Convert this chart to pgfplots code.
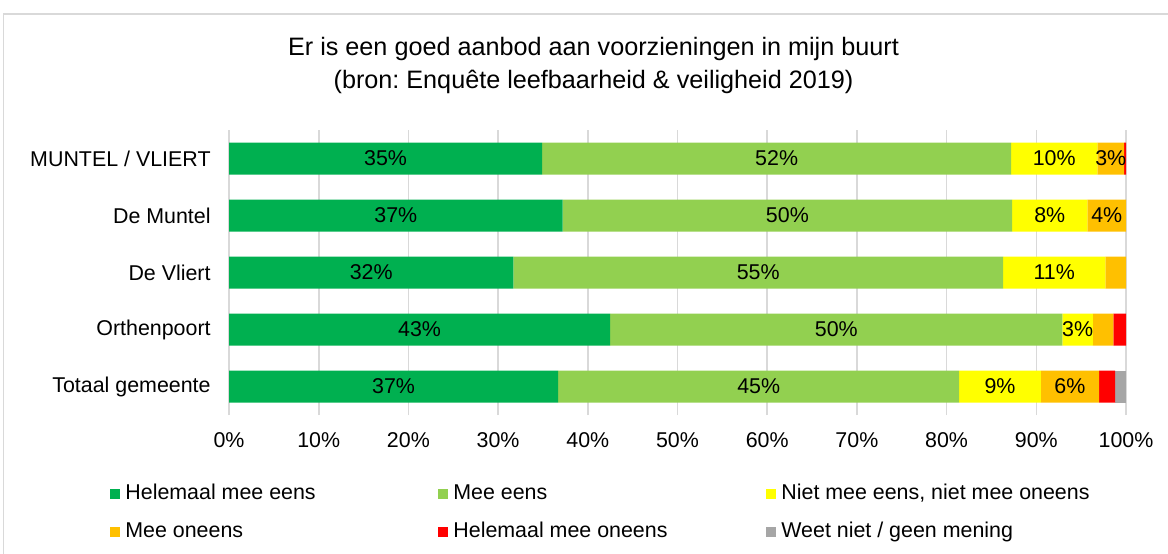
\documentclass[border=0pt]{standalone}
\usepackage{fontspec}
\setmainfont{Liberation Sans}
\usepackage{pgfplots}
\pgfplotsset{compat=1.18}
\frenchspacing
\definecolor{cA}{HTML}{00B050}
\definecolor{cB}{HTML}{92D050}
\definecolor{cC}{HTML}{FFFF00}
\definecolor{cD}{HTML}{FFC000}
\definecolor{cE}{HTML}{FF0000}
\definecolor{cF}{HTML}{A6A6A6}
\definecolor{gridc}{HTML}{D9D9D9}
\newcommand{\fs}{\fontsize{10.7bp}{12.8bp}\selectfont}
\begin{document}
\begin{tikzpicture}
\path[use as bounding box] (0,0) rectangle (584bp,277bp);
\draw[gridc, line width=0.8bp] (1.75bp,0) -- (1.75bp,270bp) -- (584bp,270bp);
\node[font=\fontsize{12.6bp}{15.1bp}\selectfont, align=center] at (296.75bp,244.25bp) {Er is een goed aanbod aan voorzieningen in mijn buurt\\[1.4bp](bron: Enquête leefbaarheid \& veiligheid 2019)};
\begin{axis}[
  at={(114.5bp,69.5bp)}, anchor=south west,
  scale only axis, width=448.5bp, height=142.5bp,
  xbar stacked, bar width=16bp,
  xmin=0, xmax=100, ymin=-0.5, ymax=4.5,
  xtick={0,10,...,100},
  xticklabels={0\%,10\%,20\%,30\%,40\%,50\%,60\%,70\%,80\%,90\%,100\%},
  ytick={0,1,2,3,4},
  yticklabels={Totaal gemeente,Orthenpoort,De Vliert,De Muntel,MUNTEL / VLIERT},
  xmajorgrids, grid style={gridc, line width=0.8bp},
  axis line style={draw=none}, tick style={draw=none},
  font=\fs,
  xticklabel style={inner sep=0pt, anchor=north, yshift=-8.5bp},
  yticklabel style={inner sep=0pt, anchor=east, xshift=-9bp},
  point meta=explicit symbolic,
  nodes near coords, nodes near coords align=center,
  every node near coord/.append style={font=\fs, black, anchor=center},
  legend columns=3,
  legend style={at={(-0.13266,-0.21053)}, anchor=north west, draw=none, fill=none,
    inner sep=0pt, row sep=0pt, font=\fs,
    nodes={inner xsep=0pt, inner ysep=4.25bp, text height=8bp, text depth=2.5bp},
    /tikz/every odd column/.append style={column sep=2.5bp}},
  legend cell align=left,
  legend image code/.code={\fill[#1] (0bp,-2.5bp) rectangle (5bp,2.5bp);},
]
\addplot[fill=cA, draw=none] coordinates {(34.9,4)[35\%] (37.2,3)[37\%] (31.7,2)[32\%] (42.5,1)[43\%] (36.7,0)[37\%]};
\addplot[fill=cB, draw=none] coordinates {(52.3,4)[52\%] (50.1,3)[50\%] (54.6,2)[55\%] (50.4,1)[50\%] (44.7,0)[45\%]};
\addplot[fill=cC, draw=none] coordinates {(9.6,4)[10\%] (8.4,3)[8\%] (11.4,2)[11\%] (3.4,1)[3\%] (9.1,0)[9\%]};
\addplot[fill=cD, draw=none] coordinates {(3.0,4)[3\%] (4.3,3)[4\%] (2.3,2)[] (2.3,1)[] (6.5,0)[6\%]};
\addplot[fill=cE, draw=none] coordinates {(0.2,4)[] (0,3)[] (0,2)[] (1.4,1)[] (1.8,0)[]};
\addplot[fill=cF, draw=none] coordinates {(0,4)[] (0,3)[] (0,2)[] (0,1)[] (1.2,0)[]};
\addlegendentry{\makebox[156.5bp][l]{Helemaal mee eens}}
\addlegendentry{\makebox[156.5bp][l]{Mee eens}}
\addlegendentry{\makebox[156.5bp][l]{Niet mee eens, niet mee oneens}}
\addlegendentry{\makebox[156.5bp][l]{Mee oneens}}
\addlegendentry{\makebox[156.5bp][l]{Helemaal mee oneens}}
\addlegendentry{\makebox[156.5bp][l]{Weet niet / geen mening}}
\end{axis}
\end{tikzpicture}
\end{document}
